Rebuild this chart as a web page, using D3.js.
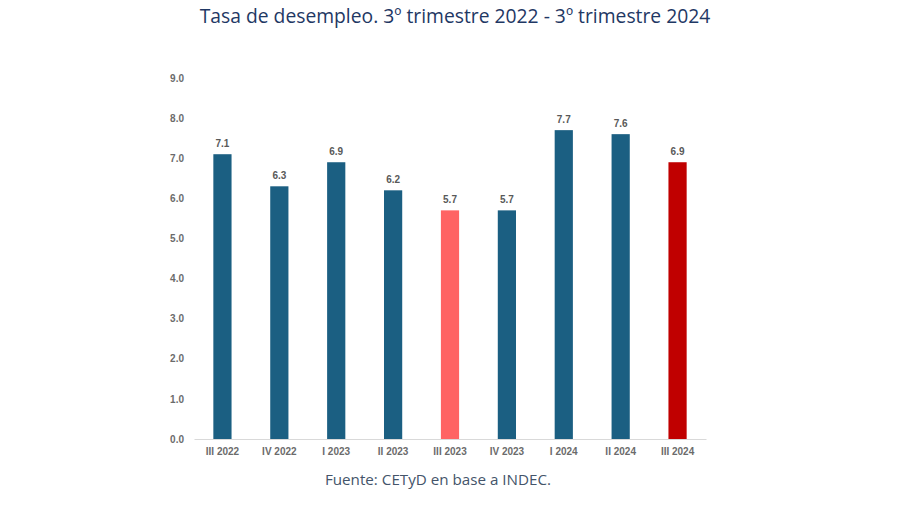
<!DOCTYPE html>
<html><head><meta charset="utf-8">
<script src="https://cdn.jsdelivr.net/npm/d3@7"></script>
<style>body{margin:0;background:#fff}svg{display:block}</style>
</head><body>
<script>
const categories = ["III 2022","IV 2022","I 2023","II 2023","III 2023","IV 2023","I 2024","II 2024","III 2024"];
const values = [7.1, 6.3, 6.9, 6.2, 5.7, 5.7, 7.7, 7.6, 6.9];
const colorKeys = ["base","base","base","base","highlight","base","base","base","current"];
const yTicks = [0,1,2,3,4,5,6,7,8,9];
const title = "Tasa de desempleo. 3º trimestre 2022 - 3º trimestre 2024";
const source = "Fuente: CETyD en base a INDEC.";

const W = 900, H = 505;
const palette = {base:"#1b5f82", highlight:"#ff6363", current:"#c00000"};
const svg = d3.select("body").append("svg").attr("width", W).attr("height", H);

const x = d3.scaleBand().domain(categories).range([194, 706]).paddingInner(0.68).paddingOuter(0.34);
const y = d3.scaleLinear().domain([0, 9]).range([439, 78]);

svg.append("text").attr("x", 455).attr("y", 23).attr("text-anchor","middle")
  .attr("font-family","'Open Sans', 'Noto Sans', sans-serif").attr("font-size", 19.3)
  .attr("fill","#1f3864").text(title);

// y axis labels
const yAxis = d3.axisLeft(y).tickValues(yTicks).tickFormat(d3.format(".1f")).tickSize(0).tickPadding(0);
const gy = svg.append("g").attr("transform","translate(184,0)").call(yAxis);
gy.select(".domain").remove();
gy.selectAll("text").attr("font-family","'Liberation Sans', Arial, sans-serif").attr("font-size",10)
  .attr("font-weight","bold").attr("fill","#6b6b6b");

// bars
svg.selectAll("rect.bar").data(values).join("rect").attr("class","bar")
  .attr("x",(d,i)=>x(categories[i])).attr("width",x.bandwidth())
  .attr("y",d=>y(d)).attr("height",d=>y(0)-y(d))
  .attr("fill",(d,i)=>palette[colorKeys[i]]);

// value labels
svg.selectAll("text.val").data(values).join("text").attr("class","val")
  .attr("x",(d,i)=>x(categories[i])+x.bandwidth()/2).attr("y",d=>y(d)-7)
  .attr("text-anchor","middle").attr("font-family","'Liberation Sans', Arial, sans-serif")
  .attr("font-size",10).attr("font-weight","bold").attr("fill","#595959")
  .text(d=>d3.format(".1f")(d));

// x axis
const xAxis = d3.axisBottom(x).tickSize(0).tickPadding(9);
const gx = svg.append("g").attr("transform",`translate(0,${y(0)})`).call(xAxis);
gx.select(".domain").attr("stroke","#d9d9d9").attr("stroke-width",1.2);
gx.selectAll("text").attr("font-family","'Liberation Sans', Arial, sans-serif").attr("font-size",10)
  .attr("font-weight","bold").attr("fill","#6b6b6b");

svg.append("text").attr("x", 438).attr("y", 485).attr("text-anchor","middle")
  .attr("font-family","'Open Sans', 'Noto Sans', sans-serif").attr("font-size", 15.2)
  .attr("fill","#44546a").text(source);
</script>
</body></html>
